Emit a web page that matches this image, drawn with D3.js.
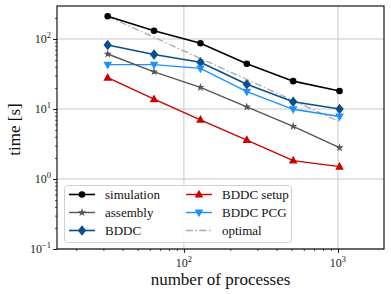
<!DOCTYPE html>
<html><head><meta charset="utf-8">
<script src="https://cdn.jsdelivr.net/npm/d3@7"></script>
<style>body{margin:0;background:#fff;}svg{display:block;}</style>
</head><body>
<svg id="c" width="391" height="294"></svg>
<script>
const processes = [32, 64, 128, 256, 512, 1024];
const simulation = [211, 131, 87, 44.4, 25, 18.1];
const assembly = [61, 34, 20.4, 10.7, 5.66, 2.8];
const bddc = [82, 60, 46.5, 22.5, 12.7, 10];
const bddcSetup = [28, 13.8, 7.0, 3.6, 1.83, 1.5];
const bddcPcg = [43, 43, 38, 17.7, 9.9, 7.8];
const optimal = processes.map(p => simulation[0] * processes[0] / p);
const seriesNames = ["simulation", "assembly", "BDDC", "BDDC setup", "BDDC PCG", "optimal"];
const xTickExps = [2, 3];
const yTickExps = [-1, 0, 1, 2];

const series = [
  {name: seriesNames[0], vals: simulation, color: "#000000", marker: "circle", w: 1.6},
  {name: seriesNames[1], vals: assembly, color: "#555555", marker: "star", w: 1.4},
  {name: seriesNames[2], vals: bddc, color: "#0b4f8c", marker: "diamond", w: 1.6},
  {name: seriesNames[3], vals: bddcSetup, color: "#cc0000", marker: "triUp", w: 1.4},
  {name: seriesNames[4], vals: bddcPcg, color: "#1e8fff", marker: "triDown", w: 1.4},
  {name: seriesNames[5], vals: optimal, color: "#aaaaaa", marker: null, w: 1.3, dash: "7,2.5,1.5,2.5"}
];

const L = 57, R = 384, T = 6, B = 249;
const x = d3.scaleLog().domain([15.0, 1990]).range([L, R]);
const y = d3.scaleLog().domain([0.1, 296]).range([B, T]);
const svg = d3.select("#c");
const font = "'Liberation Serif', 'Times New Roman', serif";

const clip = svg.append("defs").append("clipPath").attr("id","clip")
  .append("rect").attr("x",L).attr("y",T).attr("width",R-L).attr("height",B-T);

// grid
const g = svg.append("g");
xTickExps.forEach(e => {
  g.append("line").attr("x1", x(10**e)).attr("x2", x(10**e)).attr("y1", T).attr("y2", B)
    .attr("stroke", "#c8c8c8").attr("stroke-width", 1);
});
yTickExps.forEach(e => {
  g.append("line").attr("y1", y(10**e)).attr("y2", y(10**e)).attr("x1", L).attr("x2", R)
    .attr("stroke", "#c8c8c8").attr("stroke-width", 1);
});

// axes
const xAxis = d3.axisBottom(x).tickValues(xTickExps.map(e => 10**e)).tickFormat("").tickSize(4);
const yAxis = d3.axisLeft(y).tickValues(yTickExps.map(e => 10**e)).tickFormat("").tickSize(4);
const xMinor = [];
for (let e = 1; e <= 3; e++) for (let m = 2; m <= 9; m++) { const v = m * 10**e; if (v > 15 && v < 1990) xMinor.push(v); }
const yMinor = [];
for (let e = -1; e <= 2; e++) for (let m = 2; m <= 9; m++) { const v = m * 10**e; if (v < 296) yMinor.push(v); }
svg.append("g").attr("transform", `translate(0,${B})`).call(xAxis).call(s => s.select(".domain").remove())
  .selectAll("line").attr("stroke", "#000").attr("stroke-width", 0.9);
svg.append("g").attr("transform", `translate(0,${B})`)
  .call(d3.axisBottom(x).tickValues(xMinor).tickFormat("").tickSize(2)).call(s => s.select(".domain").remove())
  .selectAll("line").attr("stroke", "#000").attr("stroke-width", 0.7);
svg.append("g").attr("transform", `translate(${L},0)`).call(yAxis).call(s => s.select(".domain").remove())
  .selectAll("line").attr("stroke", "#000").attr("stroke-width", 0.9);
svg.append("g").attr("transform", `translate(${L},0)`)
  .call(d3.axisLeft(y).tickValues(yMinor).tickFormat("").tickSize(2)).call(s => s.select(".domain").remove())
  .selectAll("line").attr("stroke", "#000").attr("stroke-width", 0.7);

// tick labels
xTickExps.forEach(e => {
  const t = svg.append("text").attr("x", x(10**e)).attr("y", B + 18).attr("text-anchor", "middle")
    .attr("font-family", font).attr("font-size", 12).attr("fill", "#222");
  t.append("tspan").text("10");
  t.append("tspan").attr("dy", -5).attr("font-size", 8.5).text(e);
});
yTickExps.forEach(e => {
  const t = svg.append("text").attr("x", L - 6).attr("y", y(10**e) + 4).attr("text-anchor", "end")
    .attr("font-family", font).attr("font-size", 12).attr("fill", "#222");
  t.append("tspan").text("10");
  t.append("tspan").attr("dy", -5).attr("font-size", 8.5).text(e < 0 ? "\u22121" : e);
});

// axis labels
svg.append("text").attr("x", (L + R) / 2).attr("y", 285).attr("text-anchor", "middle")
  .attr("font-family", font).attr("font-size", 17).attr("fill", "#111").text("number of processes");
svg.append("text").attr("transform", `translate(20,${(T + B) / 2 + 2}) rotate(-90)`).attr("text-anchor", "middle")
  .attr("font-family", font).attr("font-size", 17).attr("fill", "#111").text("time [s]");

// markers
function markerPath(type) {
  switch (type) {
    case "circle": return d3.symbol(d3.symbolCircle, 34)();
    case "star": return d3.symbol(d3.symbolStar, 22)();
    case "diamond": return "M0,-5.2L4.2,0L0,5.2L-4.2,0Z";
    case "triUp": return "M0,-4.8L4.3,3L-4.3,3Z";
    case "triDown": return "M0,4.8L4.3,-3L-4.3,-3Z";
  }
}

const plot = svg.append("g").attr("clip-path", "url(#clip)");
const line = d3.line().x((d, i) => x(processes[i])).y(d => y(d));
series.slice().reverse().forEach(s => {
  plot.append("path").datum(s.vals).attr("d", line).attr("fill", "none")
    .attr("stroke", s.color).attr("stroke-width", s.w).attr("stroke-dasharray", s.dash || null);
});
series.forEach(s => {
  if (!s.marker) return;
  plot.selectAll(null).data(s.vals).enter().append("path")
    .attr("d", markerPath(s.marker))
    .attr("transform", (d, i) => `translate(${x(processes[i])},${y(d)})`)
    .attr("fill", s.color);
});

// spines
svg.append("rect").attr("x", L).attr("y", T).attr("width", R - L).attr("height", B - T)
  .attr("fill", "none").attr("stroke", "#000").attr("stroke-width", 1.1);

// legend
const lg = svg.append("g");
lg.append("rect").attr("x", 64.5).attr("y", 185.5).attr("width", 227).attr("height", 57).attr("rx", 3)
  .attr("fill", "#fff").attr("fill-opacity", 0.85).attr("stroke", "#d0d0d0").attr("stroke-width", 1);
series.forEach((s, i) => {
  const col = Math.floor(i / 3), row = i % 3;
  const x0 = col === 0 ? 69 : 186, ty = 194.5 + row * 18;
  lg.append("line").attr("x1", x0).attr("x2", x0 + 26).attr("y1", ty).attr("y2", ty)
    .attr("stroke", s.color).attr("stroke-width", s.w).attr("stroke-dasharray", s.dash || null);
  if (s.marker) lg.append("path").attr("d", markerPath(s.marker)).attr("transform", `translate(${x0 + 13},${ty})`).attr("fill", s.color);
  lg.append("text").attr("x", x0 + 36).attr("y", ty + 4.5).attr("font-family", font).attr("font-size", 13)
    .attr("fill", "#111").text(s.name);
});
</script>
</body></html>
